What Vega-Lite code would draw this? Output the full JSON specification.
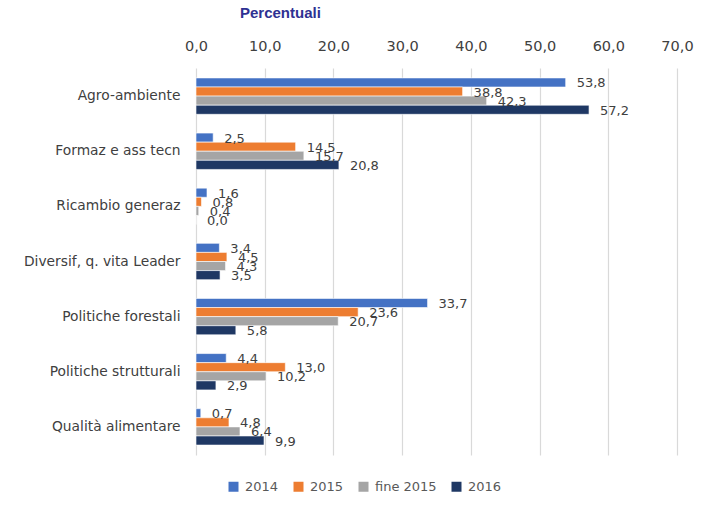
{
  "$schema": "https://vega.github.io/schema/vega-lite/v6.json",
  "autosize": {"type": "none"},
  "padding": {"left": 196, "top": 68, "right": 25, "bottom": 56},
  "width": 481,
  "height": 387,
  "title": {
    "text": "Percentuali",
    "anchor": "start",
    "frame": "group",
    "dx": 44,
    "offset": 17,
    "font": "Liberation Sans",
    "fontSize": 15,
    "fontWeight": "bold",
    "color": "#2E3192"
  },
  "data": {
    "values": [
      {"cat": "Agro-ambiente", "serie": "2014", "v": 53.8},
      {"cat": "Agro-ambiente", "serie": "2015", "v": 38.8},
      {"cat": "Agro-ambiente", "serie": "fine 2015", "v": 42.3},
      {"cat": "Agro-ambiente", "serie": "2016", "v": 57.2},
      {"cat": "Formaz e ass tecn", "serie": "2014", "v": 2.5},
      {"cat": "Formaz e ass tecn", "serie": "2015", "v": 14.5},
      {"cat": "Formaz e ass tecn", "serie": "fine 2015", "v": 15.7},
      {"cat": "Formaz e ass tecn", "serie": "2016", "v": 20.8},
      {"cat": "Ricambio generaz", "serie": "2014", "v": 1.6},
      {"cat": "Ricambio generaz", "serie": "2015", "v": 0.8},
      {"cat": "Ricambio generaz", "serie": "fine 2015", "v": 0.4},
      {"cat": "Ricambio generaz", "serie": "2016", "v": 0.0},
      {"cat": "Diversif, q. vita Leader", "serie": "2014", "v": 3.4},
      {"cat": "Diversif, q. vita Leader", "serie": "2015", "v": 4.5},
      {"cat": "Diversif, q. vita Leader", "serie": "fine 2015", "v": 4.3},
      {"cat": "Diversif, q. vita Leader", "serie": "2016", "v": 3.5},
      {"cat": "Politiche forestali", "serie": "2014", "v": 33.7},
      {"cat": "Politiche forestali", "serie": "2015", "v": 23.6},
      {"cat": "Politiche forestali", "serie": "fine 2015", "v": 20.7},
      {"cat": "Politiche forestali", "serie": "2016", "v": 5.8},
      {"cat": "Politiche strutturali", "serie": "2014", "v": 4.4},
      {"cat": "Politiche strutturali", "serie": "2015", "v": 13.0},
      {"cat": "Politiche strutturali", "serie": "fine 2015", "v": 10.2},
      {"cat": "Politiche strutturali", "serie": "2016", "v": 2.9},
      {"cat": "Qualità alimentare", "serie": "2014", "v": 0.7},
      {"cat": "Qualità alimentare", "serie": "2015", "v": 4.8},
      {"cat": "Qualità alimentare", "serie": "fine 2015", "v": 6.4},
      {"cat": "Qualità alimentare", "serie": "2016", "v": 9.9}
    ]
  },
  "encoding": {
    "y": {
      "field": "cat",
      "type": "nominal",
      "sort": null,
      "scale": {"paddingInner": 0.34, "paddingOuter": 0.18},
      "axis": {
        "title": null,
        "ticks": false,
        "domain": false,
        "labelPadding": 16,
        "labelFont": "DejaVu Sans",
        "labelFontSize": 13.8,
        "labelColor": "#404040"
      }
    },
    "yOffset": {
      "field": "serie",
      "type": "nominal",
      "sort": ["2014", "2015", "fine 2015", "2016"],
      "scale": {"paddingInner": 0, "paddingOuter": 0}
    },
    "x": {
      "field": "v",
      "type": "quantitative",
      "scale": {"domain": [0, 70], "nice": false},
      "axis": {
        "orient": "top",
        "title": null,
        "values": [0, 10, 20, 30, 40, 50, 60, 70],
        "format": ".1f",
        "ticks": false,
        "domain": false,
        "labelFlush": false,
        "labelPadding": 15,
        "labelFont": "DejaVu Sans",
        "labelFontSize": 14.5,
        "labelColor": "#404040",
        "gridColor": "#D9D9D9",
        "gridWidth": 1.2
      }
    }
  },
  "layer": [
    {
      "mark": {"type": "bar", "stroke": "white", "strokeWidth": 0.6},
      "encoding": {
        "color": {
          "field": "serie",
          "type": "nominal",
          "sort": ["2014", "2015", "fine 2015", "2016"],
          "scale": {
            "domain": ["2014", "2015", "fine 2015", "2016"],
            "range": ["#4472C4", "#ED7D31", "#A5A5A5", "#1F3864"]
          },
          "legend": {
            "title": null,
            "orient": "none",
            "direction": "horizontal",
            "legendX": 31,
            "legendY": 412,
            "symbolType": "square",
            "symbolSize": 100,
            "symbolStrokeWidth": 0,
            "labelFont": "DejaVu Sans",
            "labelFontSize": 13,
            "labelColor": "#595959",
            "columnPadding": 13,
            "labelOffset": 5
          }
        }
      }
    },
    {
      "mark": {
        "type": "text",
        "align": "left",
        "baseline": "middle",
        "dx": 11,
        "dy": 1,
        "font": "DejaVu Sans",
        "fontSize": 13,
        "color": "#404040"
      },
      "encoding": {
        "text": {"field": "v", "type": "quantitative", "format": ".1f"}
      }
    }
  ],
  "config": {
    "locale": {
      "number": {
        "decimal": ",",
        "thousands": ".",
        "grouping": [3],
        "currency": ["", " €"]
      }
    },
    "view": {"stroke": null}
  }
}
